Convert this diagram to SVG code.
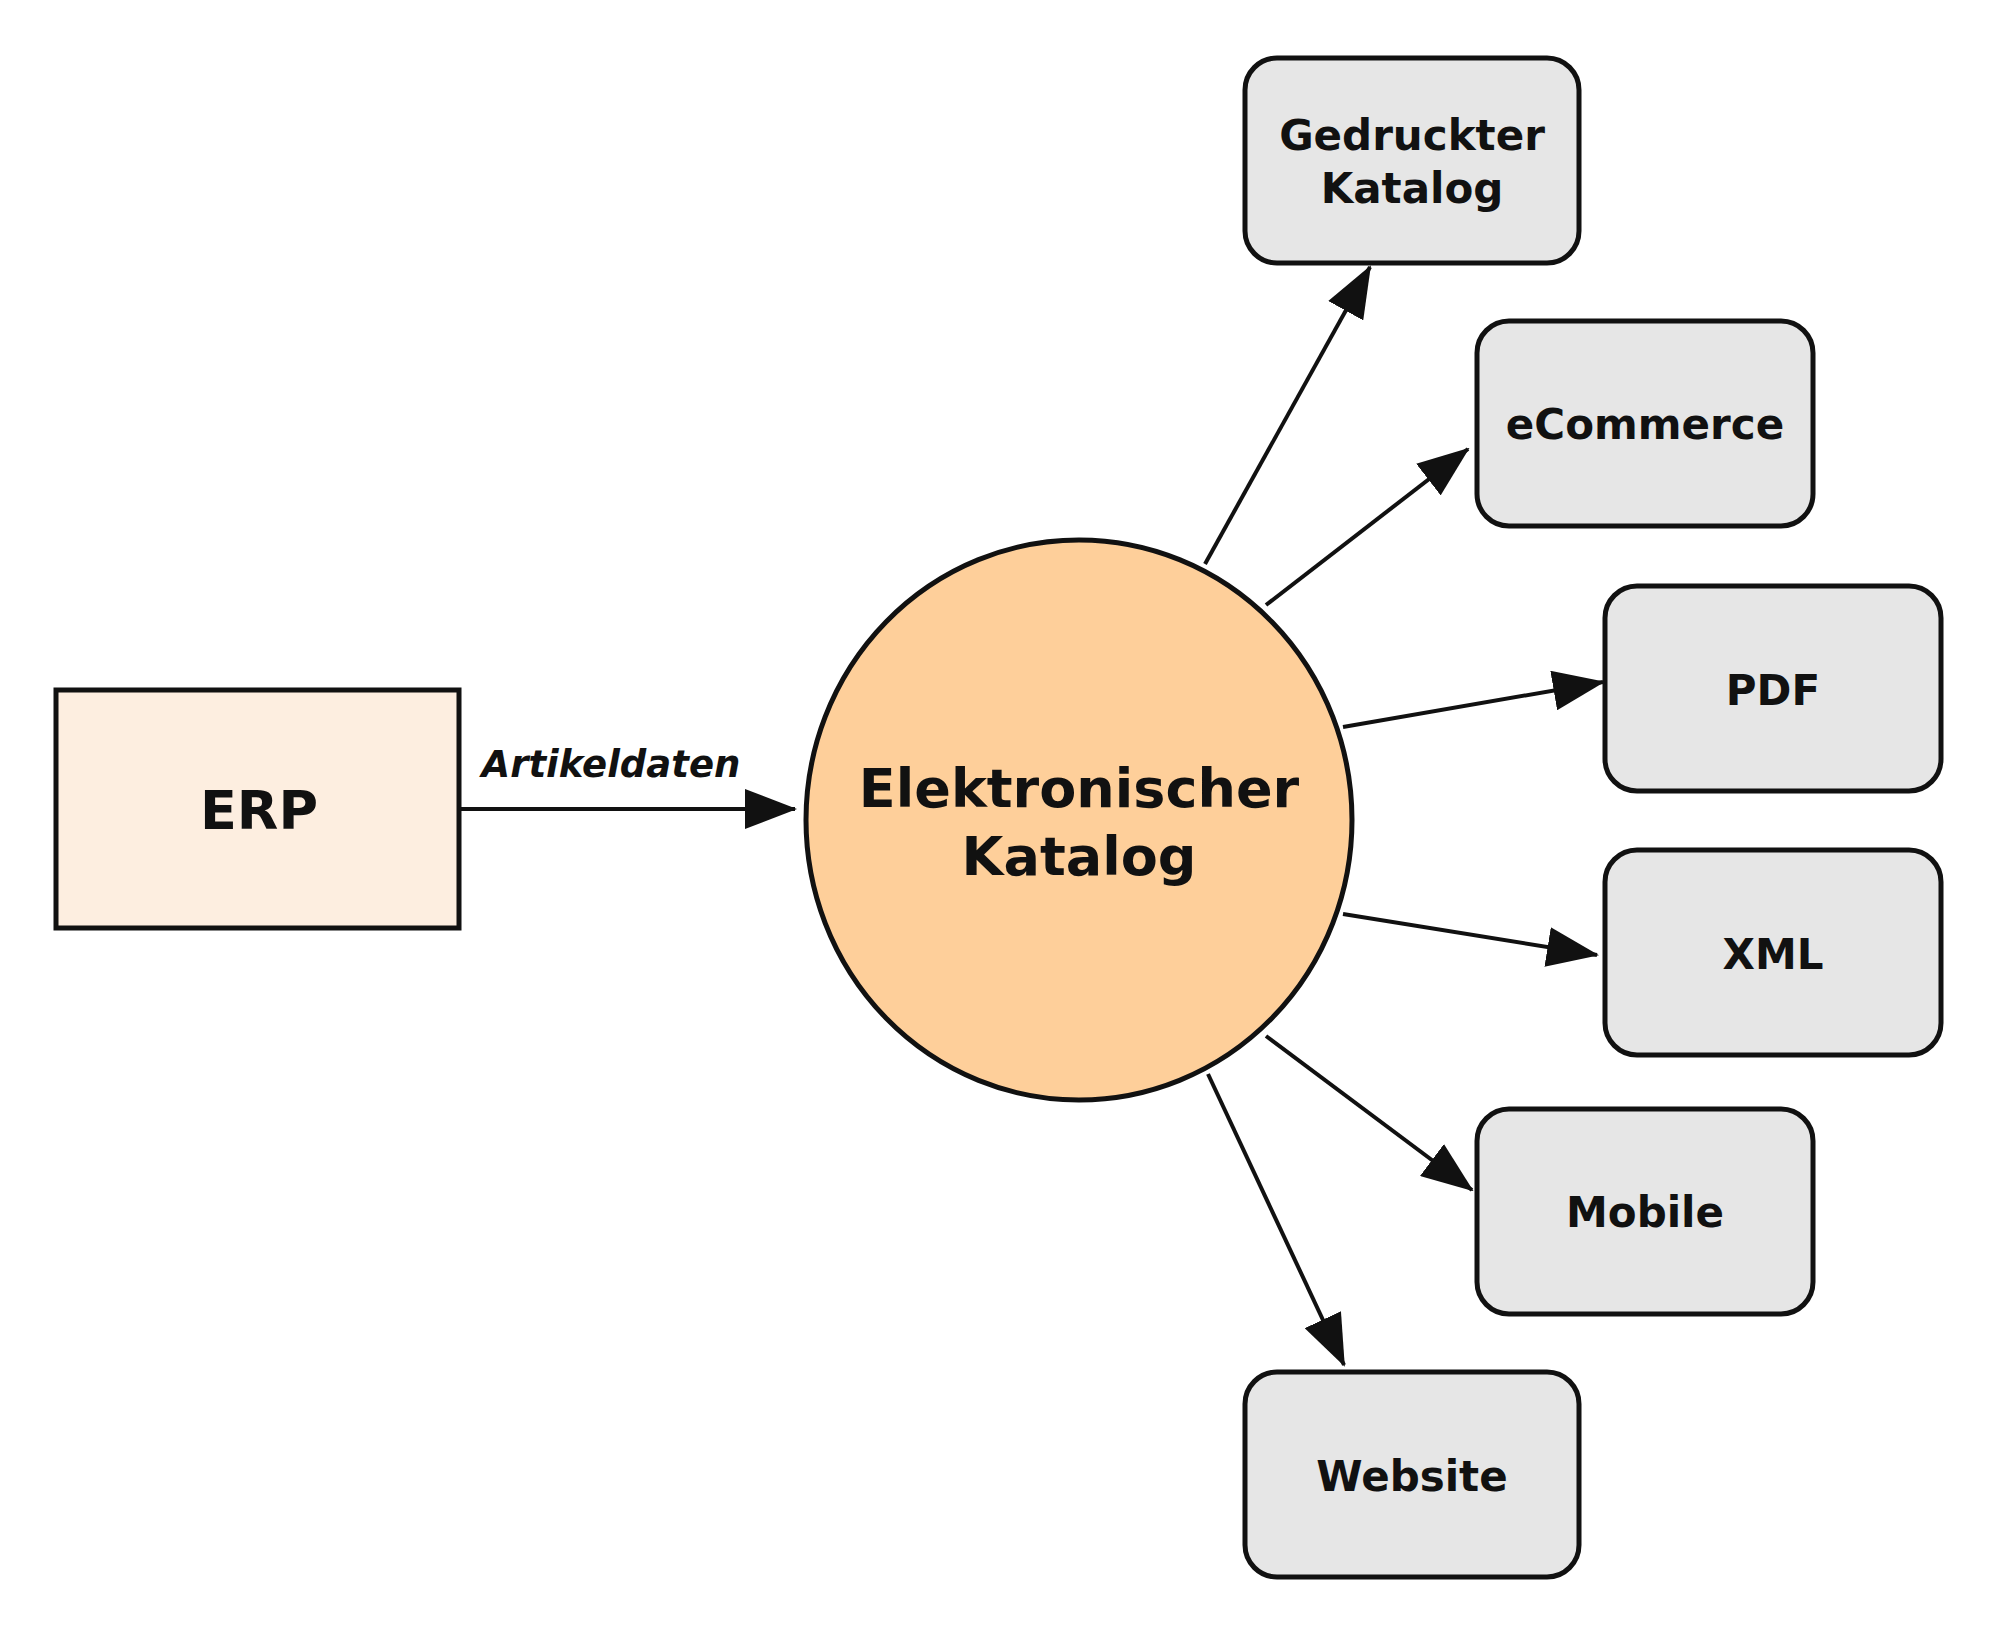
<svg xmlns="http://www.w3.org/2000/svg" width="2000" height="1632" viewBox="0 0 2000 1632">
<style>
text{font-family:"DejaVu Sans","Liberation Sans",sans-serif;font-weight:bold;fill:#111;text-anchor:middle;dominant-baseline:central}
.box{fill:#e6e6e6;stroke:#111;stroke-width:5}
.lbl{font-size:42px}
.c{stroke:#111;stroke-width:4;fill:none;marker-end:url(#ah)}
</style>
<defs>
<marker id="ah" markerUnits="userSpaceOnUse" markerWidth="52" markerHeight="40" refX="50" refY="20" orient="auto">
<path d="M0,0 L52,20 L0,40 Z" fill="#111"/>
</marker>
</defs>
<rect width="2000" height="1632" fill="#fff"/>
<g id="connectors">
<line class="c" x1="459" y1="809" x2="795" y2="809"/>
<line class="c" x1="1205" y1="564" x2="1370" y2="267"/>
<line class="c" x1="1266" y1="605" x2="1468" y2="449"/>
<line class="c" x1="1343" y1="727" x2="1603" y2="682"/>
<line class="c" x1="1343" y1="914" x2="1597" y2="955"/>
<line class="c" x1="1266" y1="1036" x2="1472" y2="1190"/>
<line class="c" x1="1208" y1="1074" x2="1344" y2="1365"/>
<text x="611" y="764" style="font-size:37px;font-style:italic">Artikeldaten</text>
</g>
<g id="erp"><rect x="56" y="690" width="403" height="238" fill="#fdeee0" stroke="#111" stroke-width="5"/><text x="259" y="810" style="font-size:54px">ERP</text></g>
<g id="katalog"><ellipse cx="1079" cy="820" rx="273" ry="280" fill="#fecf9a" stroke="#111" stroke-width="5"/><text x="1079" y="788" style="font-size:54px">Elektronischer</text><text x="1079" y="856" style="font-size:54px">Katalog</text></g>
<g id="gedruckt"><rect class="box" x="1245" y="58" width="334" height="205" rx="32"/><text class="lbl" x="1412" y="135">Gedruckter</text><text class="lbl" x="1412" y="188">Katalog</text></g>
<g id="ecommerce"><rect class="box" x="1477" y="321" width="336" height="205" rx="32"/><text class="lbl" x="1645" y="424">eCommerce</text></g>
<g id="pdf"><rect class="box" x="1605" y="586" width="336" height="205" rx="32"/><text class="lbl" x="1773" y="690">PDF</text></g>
<g id="xml"><rect class="box" x="1605" y="850" width="336" height="205" rx="32"/><text class="lbl" x="1773" y="954">XML</text></g>
<g id="mobile"><rect class="box" x="1477" y="1109" width="336" height="205" rx="32"/><text class="lbl" x="1645" y="1212">Mobile</text></g>
<g id="website"><rect class="box" x="1245" y="1372" width="334" height="205" rx="32"/><text class="lbl" x="1412" y="1476">Website</text></g>
</svg>
